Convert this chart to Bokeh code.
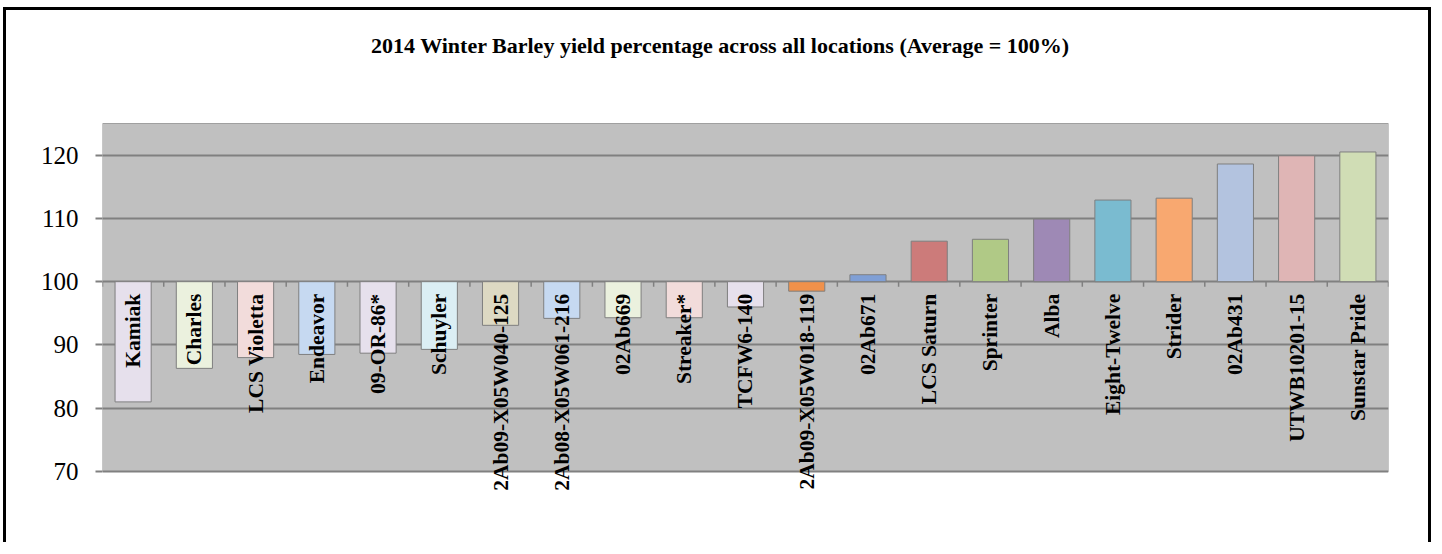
import numpy as np
from bokeh.plotting import figure
from bokeh.models import ColumnDataSource, LabelSet, Label, Range1d, FixedTicker
from bokeh.embed import file_html
from bokeh.resources import INLINE

# ---------------- data ----------------
varieties = ["Kamiak", "Charles", "LCS Violetta", "Endeavor", "09-OR-86*", "Schuyler",
             "2Ab09-X05W040-125", "2Ab08-X05W061-216", "02Ab669", "Streaker*", "TCFW6-140",
             "2Ab09-X05W018-119", "02Ab671", "LCS Saturn", "Sprinter", "Alba", "Eight-Twelve",
             "Strider", "02Ab431", "UTWB10201-15", "Sunstar Pride"]
yield_pct = [81.0, 86.3, 88.0, 88.5, 88.7, 89.3, 93.1, 94.2, 94.3, 94.3, 96.0,
             98.5, 101.1, 106.4, 106.7, 109.9, 112.9, 113.2, 118.6, 119.9, 120.5]
bar_colors = ["#E6E0EC", "#EBF1DE", "#F2DCDB", "#C6D9F1", "#E6E0EC", "#DBEEF4",
              "#DDD9C3", "#C6D9F1", "#EBF1DE", "#F2DCDB", "#E6E0EC",
              "#F0914B", "#7F9FD6", "#CC7B7A", "#B0C986", "#9E89B5", "#7ABBD0",
              "#F8A870", "#B3C3DF", "#DFB5B5", "#D0DDB5"]
y_ticks = [70, 80, 90, 100, 110, 120]
average = 100
title_text = "2014 Winter Barley yield percentage across all locations (Average = 100%)"

# ---------------- layout constants (pixels) ----------------
PLOT_MIN, PLOT_MAX = 70, 125          # value extent of the grey plot area
AREA_TOP_PX, AREA_BOT_PX = 123, 471   # page y of grey area
FRAME_TOP_PX, FRAME_BOT_PX = 20, 500  # page y of bokeh frame
px_per_unit = (AREA_BOT_PX - AREA_TOP_PX) / (PLOT_MAX - PLOT_MIN)
Y_TOP = PLOT_MAX + (AREA_TOP_PX - FRAME_TOP_PX) / px_per_unit
Y_BOT = PLOT_MIN - (FRAME_BOT_PX - AREA_BOT_PX) / px_per_unit

n = len(varieties)
xs = [i + 0.5 for i in range(n)]
src = ColumnDataSource(dict(x=xs, name=varieties, val=yield_pct, color=bar_colors,
                            base=[average] * n,
                            lab_y=[average - 12 / px_per_unit] * n))

p = figure(width=1428, height=535, x_range=Range1d(0, n), y_range=Range1d(Y_BOT, Y_TOP),
           output_backend="svg", toolbar_location=None,
           min_border_left=96, min_border_right=46, min_border_top=10, min_border_bottom=45,
           background_fill_color="white", border_fill_color="white",
           outline_line_color=None)

p.styles = {"border-left": "3px solid black", "border-top": "3px solid black",
            "border-right": "3px solid black", "margin-left": "3px", "margin-top": "7px"}

# grey plot area
area = p.quad(left=[0], right=[n], bottom=[PLOT_MIN], top=[PLOT_MAX],
              fill_color="#C0C0C0", line_color="#A0A0A0", line_width=1)
area.level = "image"

p.xaxis.visible = False
p.xgrid.visible = False
p.ygrid.ticker = FixedTicker(ticks=y_ticks)
p.ygrid.grid_line_color = "#808080"
p.ygrid.grid_line_width = 2
p.yaxis.ticker = FixedTicker(ticks=y_ticks)
p.yaxis.axis_line_color = None
p.yaxis.major_tick_line_color = "#808080"
p.yaxis.major_tick_line_width = 2
p.yaxis.major_tick_out = 7
p.yaxis.major_tick_in = 0
p.yaxis.minor_tick_line_color = None
p.yaxis.major_label_standoff = 17
p.yaxis.major_label_text_font = "Liberation Serif"
p.yaxis.major_label_text_font_size = "25px"
p.yaxis.major_label_text_color = "black"

# bars hanging from / rising above the 100% average line
p.vbar(x="x", width=0.59, bottom="base", top="val", source=src,
       fill_color="color", line_color="#7F7F7F", line_width=1)

# category axis ticks at the average line
bounds = list(range(n + 1))
p.segment(x0=bounds, y0=[average] * (n + 1), x1=bounds,
          y1=[average - 5 / px_per_unit] * (n + 1), line_color="#808080", line_width=1.5)

labels = LabelSet(x="x", y="lab_y", text="name", source=src, angle=np.pi / 2,
                  text_align="right", text_baseline="middle",
                  text_font="Liberation Serif", text_font_style="bold",
                  text_font_size="21.5px", text_color="black")
p.add_layout(labels)

title = Label(x=(720 - 102) / (1286 / n), y=PLOT_MAX + (AREA_TOP_PX - 45) / px_per_unit,
              text=title_text, text_align="center", text_baseline="middle",
              text_font="Liberation Serif", text_font_style="bold",
              text_font_size="22px", text_color="black")
p.add_layout(title)

open("out.html", "w").write(file_html(p, INLINE))
